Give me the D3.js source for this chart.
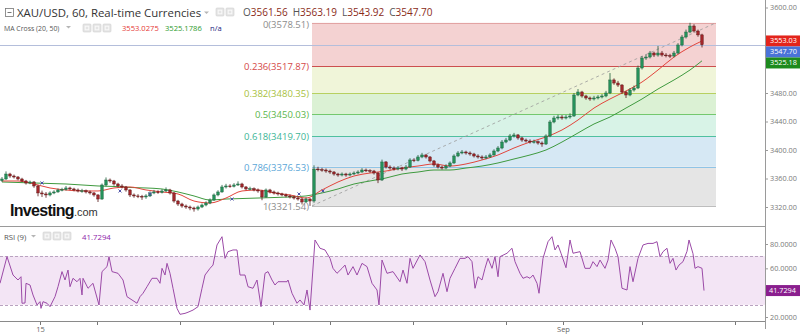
<!DOCTYPE html>
<html>
<head>
<meta charset="utf-8">
<script src="https://cdn.jsdelivr.net/npm/d3@7"></script>
<style>
body { margin: 0; background: #fff; }
svg { display: block; font-family: "Open Sans", "Noto Sans", sans-serif; }
</style>
</head>
<body>
<svg id="chart" width="800" height="334"></svg>
<script>
// candles: one per two hourly bars, open = previous close
var firstOpen = 3357.0;
var closes = [
    3359.3,3366.3,3363.5,3362.1,3359.3,3356.5,3353.7,3355.1,3349.5,3339.7,
    3338.3,3336.9,3339.7,3341.1,3343.9,3344.5,3346.7,3345.3,3343.9,3342.5,
    3342.8,3341.1,3339.7,3336.9,3331.2,3350.9,3357.9,3356.5,3352.3,3349.5,
    3348.1,3343.9,3336.9,3335.5,3335.0,3334.1,3335.5,3339.7,3341.1,3340.5,
    3342.5,3343.9,3339.7,3328.4,3324.2,3321.4,3320.0,3318.6,3317.2,3320.0,
    3322.8,3325.6,3329.8,3336.9,3341.1,3348.1,3349.5,3349.0,3350.9,3352.3,
    3348.1,3345.3,3345.8,3343.9,3342.5,3334.1,3343.9,3341.1,3339.7,3338.3,
    3336.9,3335.5,3334.1,3332.6,3331.2,3327.0,3331.2,3328.4,3373.3,3372.6,
    3371.9,3370.5,3369.1,3366.3,3364.9,3366.3,3364.9,3366.3,3367.7,3369.1,
    3371.9,3371.2,3370.5,3367.7,3357.9,3383.2,3376.1,3374.7,3373.3,3374.7,
    3373.3,3376.1,3386.0,3385.3,3390.2,3393.0,3390.2,3384.6,3379.0,3376.1,
    3374.7,3377.5,3381.8,3391.6,3395.8,3397.2,3395.8,3394.4,3391.6,3390.2,
    3388.8,3390.2,3393.0,3398.6,3402.8,3411.2,3414.0,3419.7,3421.1,3416.9,
    3414.0,3412.6,3411.2,3411.8,3409.8,3408.4,3419.7,3439.3,3444.9,3446.3,
    3444.9,3446.3,3447.7,3477.2,3481.4,3475.8,3473.0,3471.6,3473.0,3474.4,
    3475.8,3480.0,3498.3,3494.0,3491.2,3481.4,3477.2,3484.2,3487.0,3515.1,
    3529.1,3530.5,3536.1,3533.3,3536.1,3533.3,3532.6,3531.9,3536.1,3547.4,
    3558.6,3565.6,3574.0,3567.0,3561.56,3547.70
];
var highs = [
    3362,3370,3368,3365.5,3363.5,3361,3358,3357,3356.5,3351,
    3343,3341,3342,3343.5,3346,3347,3349.5,3348.5,3347,3346,
    3345.5,3344.5,3343,3341,3338,3353,3361.5,3360,3358,3354,
    3352,3349.5,3345,3339,3338,3337,3338,3342,3344,3343.5,
    3345,3347.5,3345.5,3341,3330,3326,3323.5,3322,3320.5,3322,
    3325,3328,3332,3339,3343.5,3351,3352.5,3352,3353.5,3356,
    3354,3349.5,3348.5,3347.5,3346,3344,3346,3345.5,3343,3341.5,
    3340,3339,3337.5,3336,3335,3333,3333.5,3332.5,3378.5,3376.5,
    3375,3374,3372.5,3370.5,3368,3368.5,3368,3368.5,3370,3371.5,
    3374.5,3374,3373,3372,3369,3386.5,3384.5,3378.5,3377,3377.5,
    3376.5,3379,3388.5,3388.5,3393,3396,3394.5,3391.5,3386,3381,
    3378,3380,3384,3394,3398.5,3400,3399,3398,3396,3394,
    3392.5,3393,3395.5,3401,3405.5,3414,3417,3422.5,3424,3422.5,
    3418.5,3416,3415,3414.5,3413.5,3412,3422,3442,3448,3449.5,
    3449,3449,3451.5,3480,3485.5,3483,3477.5,3475,3476,3477,
    3478.5,3483,3508,3500.5,3497,3492.5,3483,3487,3490.5,3518.5,
    3532,3534,3539,3538,3546,3539,3536,3535,3539,3550,
    3561.5,3569,3578.51,3576.5,3569,3563.19
];
var lows = [
    3355,3358,3361,3360,3357.5,3355,3351.5,3352,3347,3335,
    3334,3333,3335,3338,3340,3342,3343,3343.5,3342,3340.5,
    3340,3339,3337.5,3334.5,3327,3330,3349,3354,3350,3347.5,
    3346,3341.5,3334,3333,3332.5,3330,3331.5,3334,3338,3338.5,
    3339,3341,3337.5,3326,3321.5,3319,3317.5,3315.5,3313.5,3315,
    3318.5,3321,3324,3328.5,3335,3340,3346,3347,3347.5,3349.5,
    3346,3343.5,3343.5,3342,3340,3329.5,3333,3339,3337.5,3336,
    3335,3333.5,3332,3330.5,3329,3323.5,3325.5,3321.54,3326,3370,
    3369.5,3368,3366.5,3364,3362.5,3363,3362.5,3363,3365,3366,
    3368,3369,3368,3365.5,3353.5,3356.5,3374,3372.5,3371,3371.5,
    3370.5,3371.5,3375,3383,3384,3388.5,3388,3382.5,3376.5,3374,
    3372.5,3373,3376,3380.5,3390,3394,3393.5,3392,3389.5,3388,
    3386.5,3387,3389,3392,3397,3401,3409.5,3412.5,3417.5,3414.5,
    3411.5,3410.5,3409,3409,3407.5,3404.5,3407,3418,3437.5,3442.5,
    3442.5,3443,3444,3446.5,3475.5,3473.5,3470.5,3469,3469.5,3471,
    3472.5,3474,3478.5,3491.5,3488.5,3478.5,3473,3475.5,3482,3485.5,
    3513,3526.5,3528.5,3530.5,3531,3531,3530,3529,3530,3534.5,
    3545.5,3556.5,3564,3565,3559,3543.92
];

// moving averages, read every 8 hourly bars
var maBars = d3.range(0, 345, 8).concat([350]);
var ma20 = [
    3356.5,3356.5,3352.3,3346.7,3343.9,3342.5,3342.5,3346.7,3348.1,3343.9,
    3341.1,3338.3,3328.4,3325.6,3332.6,3342.5,3343.9,3339.7,3336.9,3332.6,
    3343.9,3355.1,3363.5,3367.7,3370.5,3374.7,3377.5,3380.4,3377.5,3380.4,
    3386.0,3393.0,3402.8,3411.2,3418.3,3428.1,3442.1,3458.9,3471.6,3482.8,
    3495.4,3512.3,3530.5,3544.6,3553.03
];
var ma50 = [
    3355.1,3354.4,3353.7,3353.0,3352.3,3350.9,3349.5,3348.8,3347.4,3346.7,
    3345.3,3341.1,3335.5,3329.8,3331.2,3331.9,3332.6,3333.3,3334.1,3335.5,
    3339.7,3345.3,3352.3,3356.5,3360.7,3366.3,3369.1,3371.9,3371.9,3374.7,
    3377.5,3381.8,3387.4,3393.0,3400.0,3411.2,3423.9,3436.5,3446.3,3458.9,
    3471.6,3485.6,3498.3,3512.3,3525.18
];
var crossBars = [20, 59, 74, 115, 148.5, 160.5];
var crossPrices = [3353.7, 3342.5, 3338.3, 3331.2, 3338.3, 3342.5];

var rsiBars = [
    -1,2.5,5.5,8,9.5,10,11.5,12,14,15.5,17.5,19,19.5,20.5,22.5,24,26.5,28,30,31.5,
    33,34,35.5,37.5,39,40,40.5,43,45.5,48.5,50,52.5,53.5,55,58,60.5,62.5,65,67.5,69,
    70.5,72.5,75,77.5,79,80,81.5,82.5,84,85.5,87.5,89,91.5,93,95.5,98,100,101.5,104,105.5,
    107.5,110,111.5,113,115.5,117.5,119,121.5,123,125.5,127.5,129.5,131.5,133,135,136.5,138,142.5,143,145,
    147.5,149,151,152.5,154,156.5,159,161.5,164,165.5,167.5,170,171.5,173,175.5,177.5,180,182.5,185,187.5,
    188.5,190,192.5,195.5,199,200.5,202.5,204,205.5,209,211.5,214,216.5,218,220.5,222.5,224,226.5,229,231.5,
    233,235,236.5,238,240,241.5,243,245,246.5,248,249,252.5,255,256.5,259,260.5,262.5,264,265.5,267.5,
    268.5,270.5,273,275,276.5,278,279.5,282,284,285.5,289,291.5,294,295.5,297.5,299,301.5,303,304.5,306.5,
    308,310,312.5,314,315.5,318,320.5,323,325.5,327.5,329,330.5,332.5,334,335.5,337,338.5,340.5,342.5,343.5,
    345.5,346.5,348,350,351
];
var rsiValues = [
    47.7,69.6,54.5,50.4,53.1,31.3,31.5,47.7,46.3,38.1,29.9,32.6,27.1,32.6,31.3,28.5,36.7,44.9,57.3,50.4,
    58.6,44.9,51.8,49.0,51.8,38.1,51.8,43.6,47.7,29.9,57.3,61.4,69.6,57.3,55.9,50.4,36.7,34.0,31.3,36.7,
    39.5,44.9,51.8,51.8,47.7,60.0,54.5,64.1,55.9,43.6,27.1,22.2,23.0,23.9,25.7,28.5,43.6,54.5,60.0,62.7,
    79.2,86.0,68.2,73.7,75.1,75.1,54.5,54.5,44.9,43.6,50.4,28.5,55.9,57.3,50.4,46.3,49.0,49.0,50.4,39.5,
    31.3,34.0,29.9,42.2,25.7,83.3,76.5,75.1,68.2,60.0,55.9,60.0,62.7,54.5,61.4,54.5,64.1,61.4,47.7,42.2,
    29.9,66.8,55.9,57.3,49.0,58.6,47.7,68.2,60.0,71.0,65.5,50.4,36.7,40.8,55.9,40.8,51.8,60.0,68.2,68.2,
    69.6,65.5,43.6,53.1,50.4,60.0,68.2,60.0,69.6,53.1,69.6,72.4,76.5,65.5,55.9,51.8,53.1,51.8,54.5,47.7,
    39.5,68.2,81.9,86.0,75.1,79.2,72.4,60.5,83.3,72.4,73.7,60.0,60.0,65.5,61.4,66.8,60.0,66.8,83.3,76.5,
    69.6,43.6,42.2,61.4,49.0,68.2,79.2,80.5,80.5,81.9,69.6,73.7,76.5,64.1,68.2,58.6,62.7,65.5,74.0,83.3,
    72.0,60.0,61.4,60.0,41.7294
];

var fibRatios = ['0', '0.236', '0.382', '0.5', '0.618', '0.786', '1'];
var fibPrices = [3578.51, 3517.87, 3480.35, 3450.03, 3419.70, 3376.53, 3321.54];
var fibBars = [155, 357];

var priceTicks = [3320, 3360, 3400, 3440, 3480, 3520, 3560, 3600];
var rsiTicks = [20, 40, 60, 80];
var timeTicks = [19, 47.5, 89, 135.5, 164, 205.5, 252, 280.5, 320, 366.5];
var timeLabels = ['15', '', '', '', '', '', '', 'Sep', '', ''];

var ohlcNames = ['O', 'H', 'L', 'C'];
var ohlcValues = [3561.56, 3563.19, 3543.92, 3547.70];
var maLegend = ['3553.0275', '3525.1786', 'n/a'];
var rsiLast = '41.7294';

// colours
var fibFills = ['#f4d2d2', '#f0f5d9', '#dbf1d4', '#d8f3e7', '#d6e8f4', '#e5e5e5'];
var fibLines = ['#e2a3a3', '#cc4f4f', '#b8d060', '#74c86e', '#4fc0a0', '#8fc4e6', '#bdbdbd'];
var fibText = ['#8c8c8c', '#d44848', '#a8bf3d', '#5bb64b', '#3db596', '#5ba6d7', '#8c8c8c'];
var upColor = '#25915a', upLine = '#1d5e3b', downColor = '#a3262a', downLine = '#561414';

var svg = d3.select('#chart');
var plotRight = 765, mainBottom = 226, rsiBottom = 321;

var x = d3.scaleLinear().domain([-1, 381.5]).range([0, plotRight]);
var y = d3.scaleLinear().domain([3320, 3600]).range([207, 7.5]);
var yRsi = d3.scaleLinear().domain([20, 80]).range([317, 244]);

svg.append('rect').attr('width', 800).attr('height', 334).attr('fill', '#fff');

// ---- fibonacci retracement
var fx0 = x(fibBars[0]), fx1 = x(fibBars[1]);
var fib = svg.append('g');
fib.selectAll('rect').data(fibFills).enter().append('rect')
    .attr('x', fx0).attr('width', fx1 - fx0)
    .attr('y', function (d, i) { return y(fibPrices[i]); })
    .attr('height', function (d, i) { return y(fibPrices[i + 1]) - y(fibPrices[i]); })
    .attr('fill', function (d) { return d; });
fib.selectAll('line').data(fibPrices).enter().append('line')
    .attr('x1', fx0).attr('x2', fx1)
    .attr('y1', function (d) { return Math.round(y(d)) + 0.5; })
    .attr('y2', function (d) { return Math.round(y(d)) + 0.5; })
    .attr('stroke', function (d, i) { return fibLines[i]; })
    .attr('stroke-width', 1);
fib.selectAll('text').data(fibPrices).enter().append('text')
    .attr('x', fx0 - 3)
    .attr('y', function (d, i) { return y(d) + (i === 0 ? 2 : 0.5); })
    .attr('dy', '0.35em')
    .attr('text-anchor', 'end')
    .attr('font-size', 9.5)
    .attr('fill', function (d, i) { return fibText[i]; })
    .text(function (d, i) { return fibRatios[i] + '(' + d.toFixed(2) + ')'; });
svg.append('line')
    .attr('x1', fx0).attr('y1', y(fibPrices[6]))
    .attr('x2', fx1).attr('y2', y(fibPrices[0]))
    .attr('stroke', '#9a9a9a').attr('stroke-width', 0.8)
    .attr('stroke-dasharray', '3,3');

// current price line
var lastClose = closes[closes.length - 1];
svg.append('line')
    .attr('x1', 0).attr('x2', plotRight)
    .attr('y1', Math.round(y(lastClose)) + 0.5).attr('y2', Math.round(y(lastClose)) + 0.5)
    .attr('stroke', '#b4bedb').attr('stroke-width', 1);

// ---- moving averages
var maLine = d3.line()
    .x(function (d) { return x(d[0]); })
    .y(function (d) { return y(d[1]); })
    .curve(d3.curveMonotoneX);
svg.append('path').datum(d3.zip(maBars, ma50))
    .attr('d', maLine).attr('fill', 'none').attr('stroke', '#3f9a3f').attr('stroke-width', 1);
svg.append('path').datum(d3.zip(maBars, ma20))
    .attr('d', maLine).attr('fill', 'none').attr('stroke', '#e2453c').attr('stroke-width', 1);

// ---- candles
var candles = closes.map(function (c, i) {
    return {bar: i * 2, o: i ? closes[i - 1] : firstOpen, h: highs[i], l: lows[i], c: c};
});
var cg = svg.append('g').selectAll('g').data(candles).enter().append('g');
cg.append('line')
    .attr('x1', function (d) { return x(d.bar); })
    .attr('x2', function (d) { return x(d.bar); })
    .attr('y1', function (d) { return y(d.h); })
    .attr('y2', function (d) { return y(d.l); })
    .attr('stroke', function (d) { return d.c >= d.o ? upLine : downLine; })
    .attr('stroke-width', 0.8);
cg.append('rect')
    .attr('x', function (d) { return x(d.bar) - 1.3; })
    .attr('width', 2.6)
    .attr('y', function (d) { return y(Math.max(d.o, d.c)); })
    .attr('height', function (d) { return Math.max(0.8, Math.abs(y(d.o) - y(d.c))); })
    .attr('fill', function (d) { return d.c >= d.o ? upColor : downColor; })
    .attr('stroke', function (d) { return d.c >= d.o ? upLine : downLine; })
    .attr('stroke-width', 0.4);

// MA cross markers
svg.append('g').selectAll('path').data(d3.zip(crossBars, crossPrices)).enter().append('path')
    .attr('transform', function (d) { return 'translate(' + x(d[0]) + ',' + y(d[1]) + ')'; })
    .attr('d', d3.symbol(d3.symbolTimes, 7))
    .attr('stroke', '#4a4fa8').attr('stroke-width', 1).attr('fill', 'none');

// ---- watermark
var logo = svg.append('text').attr('x', 10).attr('y', 216);
logo.append('tspan').attr('font-family', 'Liberation Sans, Arial, sans-serif')
    .attr('font-weight', 'bold').attr('font-size', 16).attr('letter-spacing', -0.7)
    .attr('fill', '#111').text('Investing');
logo.append('tspan').attr('font-family', 'Liberation Sans, Arial, sans-serif')
    .attr('font-size', 11).attr('fill', '#333').text('.com');

// ---- RSI panel
svg.append('rect')
    .attr('x', 0).attr('width', plotRight)
    .attr('y', yRsi(70)).attr('height', yRsi(30) - yRsi(70))
    .attr('fill', '#f3e5f5');
[70, 30].forEach(function (v) {
    svg.append('line').attr('x1', 0).attr('x2', plotRight)
        .attr('y1', Math.round(yRsi(v)) + 0.5).attr('y2', Math.round(yRsi(v)) + 0.5)
        .attr('stroke', '#b9a2c0').attr('stroke-dasharray', '3,2');
});
svg.append('path').datum(d3.zip(rsiBars, rsiValues))
    .attr('d', d3.line().x(function (d) { return x(d[0]); }).y(function (d) { return yRsi(d[1]); }))
    .attr('fill', 'none').attr('stroke', '#9b4aa7').attr('stroke-width', 1);

// ---- frame lines
svg.append('line').attr('x1', 0).attr('x2', plotRight).attr('y1', mainBottom + 0.5).attr('y2', mainBottom + 0.5)
    .attr('stroke', '#9a9a9a');
svg.append('line').attr('x1', plotRight + 0.5).attr('x2', plotRight + 0.5).attr('y1', 0).attr('y2', rsiBottom + 8)
    .attr('stroke', '#9a9a9a');

// ---- value tags on the right scale (computed first so covered tick labels can be dropped)
var tags = [
    {v: ma20[ma20.length - 1], fill: '#e3241b'},
    {v: lastClose, fill: '#4a73d8'},
    {v: ma50[ma50.length - 1], fill: '#1d8a1d'}
];
var lastY = -Infinity;
tags.forEach(function (t) {
    t.cy = Math.max(y(t.v), lastY + 11);
    lastY = t.cy;
});
var rsiTagY = yRsi(+rsiLast);

function covered(py, list) {
    return list.some(function (cy) { return Math.abs(py - cy) < 9; });
}

// ---- axes
function styleAxis(g) {
    g.select('.domain').remove();
    g.selectAll('.tick line').attr('stroke', '#9a9a9a');
    g.selectAll('.tick text').attr('fill', '#7a7a7a').attr('font-family', 'Open Sans, sans-serif')
        .attr('font-size', 7.3);
}
var tagYs = tags.map(function (t) { return t.cy; });
svg.append('g').attr('transform', 'translate(' + plotRight + ',0)')
    .call(d3.axisRight(y).tickValues(priceTicks.filter(function (v) { return !covered(y(v), tagYs); }))
        .tickSize(3).tickPadding(2).tickFormat(d3.format('.2f')))
    .call(styleAxis);
svg.append('g').attr('transform', 'translate(' + plotRight + ',0)')
    .call(d3.axisRight(yRsi).tickValues(rsiTicks.filter(function (v) { return !covered(yRsi(v), [rsiTagY]); }))
        .tickSize(3).tickPadding(2).tickFormat(d3.format('.4f')))
    .call(styleAxis);
var xAxisG = svg.append('g').attr('transform', 'translate(0,' + rsiBottom + ')')
    .call(d3.axisBottom(x).tickValues(timeTicks).tickSize(4).tickPadding(2)
        .tickFormat(function (d, i) { return timeLabels[i]; }));
xAxisG.select('.domain').remove();
xAxisG.selectAll('.tick line').attr('stroke', '#777');
xAxisG.selectAll('.tick text').attr('fill', '#666').attr('font-size', 7.5).attr('font-family', 'Open Sans, sans-serif');
svg.append('line').attr('x1', 0).attr('x2', plotRight).attr('y1', rsiBottom + 0.5).attr('y2', rsiBottom + 0.5)
    .attr('stroke', '#8a8a8a');

tags.forEach(function (t) {
    svg.append('rect').attr('x', plotRight + 1).attr('y', t.cy - 5.5).attr('width', 35).attr('height', 11).attr('fill', t.fill);
    svg.append('text').attr('x', plotRight + 5).attr('y', t.cy).attr('dy', '0.33em')
        .attr('font-size', 7.3).attr('fill', '#fff').text(t.v.toFixed(2));
});
svg.append('rect').attr('x', plotRight + 1).attr('y', rsiTagY - 5.5).attr('width', 35).attr('height', 11).attr('fill', '#8a1f8e');
svg.append('text').attr('x', plotRight + 4).attr('y', rsiTagY).attr('dy', '0.33em')
    .attr('font-size', 7.3).attr('fill', '#fff').text(rsiLast);

// ---- legends
function iconButtons(x0, yTop, n) {
    for (var k = 0; k < n; k++) {
        svg.append('rect').attr('x', x0 + k * 10).attr('y', yTop).attr('width', 8).attr('height', 8)
            .attr('rx', 1).attr('fill', '#e4e4e4').attr('stroke', '#d0d0d0').attr('stroke-width', 0.6);
        svg.append('rect').attr('x', x0 + k * 10 + 2.2).attr('y', yTop + 2.2).attr('width', 3.6).attr('height', 3.6)
            .attr('fill', 'none').attr('stroke', '#fafafa').attr('stroke-width', 0.9);
    }
}
function arrow(x0, y0) {
    svg.append('path').attr('d', 'M' + x0 + ',' + y0 + 'h5l-2.5,2.5z').attr('fill', '#b5b5b5');
}

// collapse box
svg.append('rect').attr('x', 5.5).attr('y', 8.5).attr('width', 8).attr('height', 8)
    .attr('fill', 'none').attr('stroke', '#777').attr('stroke-width', 0.8);
svg.append('line').attr('x1', 7.5).attr('x2', 11.5).attr('y1', 12.5).attr('y2', 12.5).attr('stroke', '#777');
svg.append('text').attr('x', 17).attr('y', 16.5).attr('font-size', 11.4).attr('fill', '#333')
    .text('XAU/USD, 60, Real-time Currencies');
arrow(204, 11.5);
iconButtons(216, 8, 2);
var ohlc = svg.append('text').attr('x', 243).attr('y', 16).attr('font-size', 10);
ohlcNames.forEach(function (n, i) {
    ohlc.append('tspan').attr('fill', '#555').attr('dx', i ? 5 : 0).text(n);
    ohlc.append('tspan').attr('fill', '#8a2b18').text(ohlcValues[i].toFixed(2));
});

svg.append('text').attr('x', 4).attr('y', 31).attr('font-size', 6.9).attr('fill', '#555').text('MA Cross (20, 50)');
arrow(66, 26);
iconButtons(83, 24, 3);
var maColors = ['#e53935', '#2e9a2e', '#1a237e'];
var maX = [122, 165, 210];
maLegend.forEach(function (t, i) {
    svg.append('text').attr('x', maX[i]).attr('y', 31).attr('font-size', 7.6).attr('fill', maColors[i]).text(t);
});

svg.append('text').attr('x', 4).attr('y', 240).attr('font-size', 7.8).attr('fill', '#555').text('RSI (9)');
arrow(31, 235);
iconButtons(43, 232, 3);
svg.append('text').attr('x', 82).attr('y', 240).attr('font-size', 7.8).attr('fill', '#8e24aa').text(rsiLast);
</script>
</body>
</html>
